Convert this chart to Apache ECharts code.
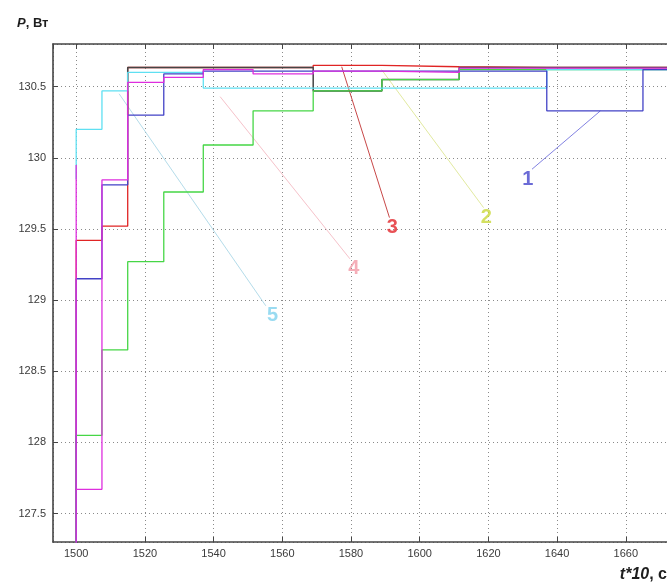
<!DOCTYPE html>
<html>
<head>
<meta charset="utf-8">
<script src="https://cdn.jsdelivr.net/npm/echarts@6/dist/echarts.min.js"></script>
<style>
  html, body { margin: 0; padding: 0; background: #fff; }
  #chart { width: 667px; height: 585px; }
</style>
</head>
<body>
<div id="chart"></div>
<script>
// Switching instants of the stepwise power curves (t*10, s)
const times = [1500, 1507.5, 1515, 1525.5, 1537, 1551.5, 1569, 1589, 1611.5, 1637, 1665];
const tEnd = 1672;

// Power held on each interval, W
const curve1 = [129.15, 129.81, 130.30, 130.59, 130.61, 130.61, 130.61, 130.61, 130.61, 130.33, 130.62];
const curve2 = [128.05, 128.65, 129.27, 129.76, 130.09, 130.33, 130.47, 130.55, 130.62, 130.62, 130.62];
const curve3 = [129.42, 129.52, 130.635, 130.635, 130.635, 130.635, 130.65, 130.64, 130.635, 130.635, 130.635];
const curve4 = [127.67, 129.845, 130.53, 130.565, 130.62, 130.59, 130.61, 130.60, 130.63, 130.63, 130.63];
const curve5 = [130.20, 130.47, 130.60, 130.60, 130.49, 130.49, 130.49, 130.49, 130.49, 130.62, 130.62];
// Levels right at the switch instant t = 1500
const curve4Jump = 129.95;
const curve5Before = 129.85;
const belowAxis = 127.0;

// Maximum available power
const pmaxTimes = [1515, 1515, 1569, 1589, 1611.5];
const pmaxValues = [130.30, 130.635, 130.47, 130.55, 130.635];

// Curve captions and their leader lines: label point, leader start, leader end
const noteText = ['1', '2', '3', '4', '5'];
const noteAt = [[1631.5, 129.85], [1619.4, 129.58], [1592.0, 129.51], [1580.8, 129.22], [1557.2, 128.89]];
const leadFrom = [[1632.7, 129.92], [1618.6, 129.65], [1591.2, 129.58], [1579.7, 129.29], [1555.2, 128.96]];
const leadTo = [[1652.6, 130.33], [1588.9, 130.62], [1577.3, 130.64], [1541.9, 130.43], [1512.5, 130.45]];
const noteColor = ['#4646cc', '#c9d83a', '#e2262a', '#f29aa6', '#7fd2ee'];
const leadColor = ['#8282e2', '#e2eaa0', '#c84848', '#f6c2ca', '#b4dcea'];

const xTicks = [1500, 1520, 1540, 1560, 1580, 1600, 1620, 1640, 1660];

function stairs(ts, vs, start, end, extra) {
  const pts = [[ts[0], start]];
  if (extra !== undefined) pts.push([ts[0], extra]);
  ts.forEach((t, i) => pts.push([t, vs[i]]));
  pts.push([end, vs[vs.length - 1]]);
  return pts;
}

function stepSeries(name, data, color, width) {
  return {
    name, type: 'line', step: 'end', data,
    showSymbol: false, symbol: 'none', clip: true, animation: false,
    lineStyle: { color, width: width || 1.3 },
    emphasis: { disabled: true }
  };
}

const pmaxData = pmaxTimes.map((t, i) => [t, pmaxValues[i]]);
pmaxData.push([tEnd, pmaxValues[pmaxValues.length - 1]]);

const series = [
  stepSeries('3', stairs(times, curve3, belowAxis, tEnd), '#e02424'),
  stepSeries('Pmax', pmaxData, '#454545', 1.5),
  stepSeries('2', stairs(times, curve2, belowAxis, tEnd), '#46d646'),
  stepSeries('5', stairs(times, curve5, curve5Before, tEnd), '#5fe0f2'),
  stepSeries('1', stairs(times, curve1, belowAxis, tEnd), '#4242c6'),
  stepSeries('4', stairs(times, curve4, belowAxis, tEnd, curve4Jump), '#de2ede')
];

noteText.forEach((txt, i) => {
  series.push({
    name: 'lead' + txt, type: 'line', animation: false,
    data: [leadFrom[i], leadTo[i]],
    showSymbol: false, symbol: 'none',
    lineStyle: { color: leadColor[i], width: 1 },
    emphasis: { disabled: true }, z: 1
  });
  series.push({
    name: 'note' + txt, type: 'scatter', animation: false,
    data: [noteAt[i]], symbolSize: 0,
    label: {
      show: true, position: 'inside', formatter: txt,
      color: noteColor[i], fontSize: 20, fontWeight: 'bold',
      fontFamily: 'Liberation Sans'
    },
    emphasis: { disabled: true }, z: 5
  });
});

const axisFont = { color: '#3a3a3a', fontSize: 11, fontFamily: 'Liberation Sans' };
const axisLine = { show: true, lineStyle: { color: '#454545', width: 1.6 } };
const grid = { show: true, type: [1, 3], color: '#8a8a8a', width: 1 };

const chart = echarts.init(document.getElementById('chart'), null, { renderer: 'canvas' });
chart.setOption({
  backgroundColor: '#ffffff',
  animation: false,
  grid: { left: 53, top: 44, width: 620, height: 498, containLabel: false },
  xAxis: [{
    type: 'value', min: 1493.25, max: 1672,
    splitNumber: 9, minInterval: 20, maxInterval: 20,
    axisLine, axisTick: { show: true, inside: true, length: 5, lineStyle: { color: '#454545' } },
    axisLabel: { ...axisFont, margin: 6, showMinLabel: false, showMaxLabel: false,
      formatter: v => xTicks.includes(v) ? String(v) : '' },
    splitLine: { show: true, lineStyle: grid }
  }, {
    type: 'value', position: 'top', min: 1493.25, max: 1672,
    splitNumber: 9, minInterval: 20, maxInterval: 20,
    axisLine, axisTick: { show: true, inside: true, length: 5, lineStyle: { color: '#454545' } },
    axisLabel: { show: false }, splitLine: { show: false }
  }],
  yAxis: {
    type: 'value', min: 127.3, max: 130.8,
    splitNumber: 7, minInterval: 0.5, maxInterval: 0.5,
    axisLine, axisTick: { show: true, inside: true, length: 5, lineStyle: { color: '#454545' } },
    axisLabel: { ...axisFont, margin: 7, showMinLabel: false, showMaxLabel: false,
      formatter: v => (Math.abs(v * 2 - Math.round(v * 2)) < 1e-6) ? String(v) : '' },
    splitLine: { show: true, lineStyle: grid }
  },
  graphic: [{
    type: 'text', left: 17, top: 17,
    style: {
      text: '{i|P}{b|, Вт}',
      rich: {
        i: { fontSize: 13, fontWeight: 'bold', fontStyle: 'italic', fontFamily: 'Liberation Sans', fill: '#1e1e1e' },
        b: { fontSize: 13, fontWeight: 'bold', fontFamily: 'Liberation Sans', fill: '#1e1e1e' }
      }
    }
  }, {
    type: 'text', right: 0, top: 567,
    style: {
      text: '{i|t*10}{b|, с}',
      rich: {
        i: { fontSize: 16, fontWeight: 'bold', fontStyle: 'italic', fontFamily: 'Liberation Sans', fill: '#1e1e1e' },
        b: { fontSize: 16, fontWeight: 'bold', fontFamily: 'Liberation Sans', fill: '#1e1e1e' }
      }
    }
  }],
  series
});
</script>
</body>
</html>
